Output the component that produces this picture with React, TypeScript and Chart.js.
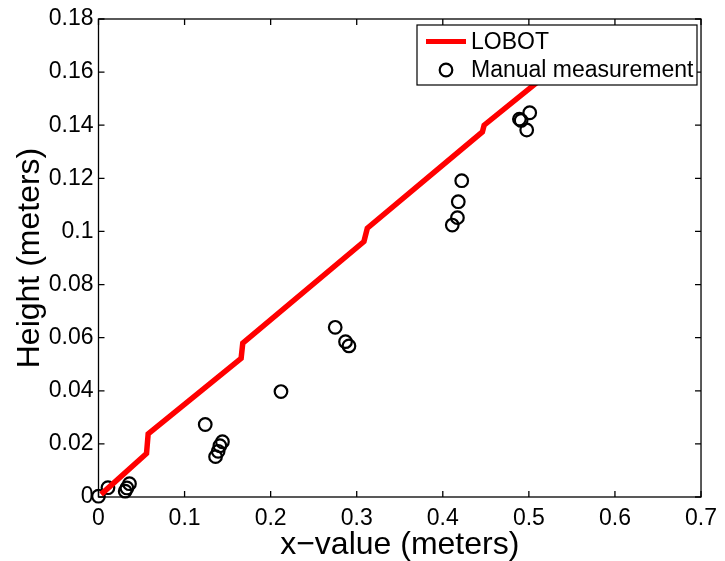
import React, { useEffect, useRef } from "react";
import { Chart, registerables } from "chart.js";

Chart.register(...registerables);

const lobotX = [0.003, 0.0558, 0.0577, 0.1657, 0.1676, 0.3084, 0.3123, 0.446, 0.448, 0.53];
const lobotY = [0.001, 0.0164, 0.0238, 0.0522, 0.0579, 0.0962, 0.1012, 0.1375, 0.14, 0.1615];

const measX = [0.0, 0.011, 0.031, 0.033, 0.036, 0.124, 0.136, 0.139, 0.141, 0.144, 0.212, 0.275, 0.287, 0.291, 0.411, 0.417, 0.418, 0.422, 0.489, 0.491, 0.4975, 0.501];
const measY = [0.0003, 0.0035, 0.0022, 0.0034, 0.005, 0.0273, 0.0152, 0.0172, 0.0193, 0.0208, 0.0397, 0.0639, 0.0585, 0.0569, 0.1024, 0.1052, 0.1112, 0.1191, 0.1423, 0.1418, 0.1382, 0.1447];

const xTicks = [0, 0.1, 0.2, 0.3, 0.4, 0.5, 0.6, 0.7];
const xTickLabels = ["0", "0.1", "0.2", "0.3", "0.4", "0.5", "0.6", "0.7"];
const yTicks = [0, 0.02, 0.04, 0.06, 0.08, 0.1, 0.12, 0.14, 0.16, 0.18];
const yTickLabels = ["0", "0.02", "0.04", "0.06", "0.08", "0.1", "0.12", "0.14", "0.16", "0.18"];

const FONT = "'Liberation Sans', Arial, Helvetica, sans-serif";

const framePlugin = {
  id: "frame",
  afterDraw(chart: any) {
    const { ctx, chartArea } = chart;
    const { left, right, top, bottom } = chartArea;
    const xs = chart.scales.x;
    const ys = chart.scales.y;
    ctx.save();
    ctx.strokeStyle = "#000";
    ctx.lineWidth = 1.3;
    ctx.strokeRect(left, top, right - left, bottom - top);
    const tl = 6;
    ctx.beginPath();
    xTicks.forEach((v) => {
      const px = xs.getPixelForValue(v);
      ctx.moveTo(px, bottom);
      ctx.lineTo(px, bottom - tl);
      ctx.moveTo(px, top);
      ctx.lineTo(px, top + tl);
    });
    yTicks.forEach((v) => {
      const py = ys.getPixelForValue(v);
      ctx.moveTo(left, py);
      ctx.lineTo(left + tl, py);
      ctx.moveTo(right, py);
      ctx.lineTo(right - tl, py);
    });
    ctx.stroke();

    // legend
    const bx = 417, by = 25, bw = 280, bh = 60;
    ctx.fillStyle = "#fff";
    ctx.fillRect(bx, by, bw, bh);
    ctx.lineWidth = 1.2;
    ctx.strokeRect(bx, by, bw, bh);
    const ds = chart.data.datasets;
    ctx.strokeStyle = "#ff0000";
    ctx.lineWidth = 5;
    ctx.beginPath();
    ctx.moveTo(426, 41.5);
    ctx.lineTo(466, 41.5);
    ctx.stroke();
    ctx.strokeStyle = "#000";
    ctx.lineWidth = 2.2;
    ctx.beginPath();
    ctx.arc(446, 70, 6.3, 0, Math.PI * 2);
    ctx.stroke();
    ctx.fillStyle = "#000";
    ctx.font = `23px ${FONT}`;
    ctx.textBaseline = "middle";
    ctx.textAlign = "left";
    ctx.fillText(ds[0].label, 471, 42.5);
    ctx.fillText(ds[1].label, 471, 71);
    ctx.restore();
  },
};

export default function App() {
  const ref = useRef<HTMLCanvasElement>(null);
  useEffect(() => {
    document.body.style.margin = "0";
    const chart = new Chart(ref.current as HTMLCanvasElement, {
      type: "scatter",
      data: {
        datasets: [
          {
            label: "LOBOT",
            data: lobotX.map((x, i) => ({ x, y: lobotY[i] })),
            showLine: true,
            borderColor: "#ff0000",
            borderWidth: 5.5,
            pointRadius: 0,
            fill: false,
            borderJoinStyle: "miter",
          } as any,
          {
            label: "Manual measurement",
            data: measX.map((x, i) => ({ x, y: measY[i] })),
            showLine: false,
            pointStyle: "circle",
            pointRadius: 6.3,
            pointBorderWidth: 2.2,
            borderColor: "#000",
            backgroundColor: "rgba(0,0,0,0)",
            pointBackgroundColor: "rgba(0,0,0,0)",
            pointBorderColor: "#000",
            clip: false,
          } as any,
        ],
      },
      options: {
        responsive: false,
        animation: false,
        layout: { padding: { left: 0, top: 19, right: 21.5, bottom: 0 } },
        plugins: { legend: { display: false }, tooltip: { enabled: false } },
        scales: {
          x: {
            type: "linear",
            min: 0,
            max: 0.7,
            grid: { display: false, drawTicks: false },
            border: { display: false },
            afterBuildTicks: (s: any) => {
              s.ticks = xTicks.map((v) => ({ value: v }));
            },
            afterFit: (s: any) => {
              s.height = 64;
            },
            ticks: {
              color: "#000",
              font: { family: FONT, size: 23 },
              padding: 8,
              maxRotation: 0,
              autoSkip: false,
              callback: (v: any, i: number) => xTickLabels[i],
            },
            title: {
              display: true,
              text: "x\u2212value (meters)",
              color: "#000",
              font: { family: FONT, size: 32, lineHeight: 1 },
              padding: { top: 0, bottom: 0 },
            },
          },
          y: {
            type: "linear",
            min: 0,
            max: 0.18,
            grid: { display: false, drawTicks: false },
            border: { display: false },
            afterBuildTicks: (s: any) => {
              s.ticks = yTicks.map((v) => ({ value: v }));
            },
            afterFit: (s: any) => {
              s.width = 98.5;
            },
            ticks: {
              color: "#000",
              font: { family: FONT, size: 23 },
              padding: 5,
              autoSkip: false,
              callback: (v: any, i: number) => yTickLabels[i],
            },
            title: {
              display: true,
              text: "Height (meters)",
              color: "#000",
              font: { family: FONT, size: 32, lineHeight: 1 },
              padding: { top: 14, bottom: 0 },
            },
          },
        },
      } as any,
      plugins: [framePlugin],
    });
    return () => chart.destroy();
  }, []);
  return (
    <div style={{ width: 725, height: 561 }}>
      <canvas ref={ref} width={725} height={561} />
    </div>
  );
}
